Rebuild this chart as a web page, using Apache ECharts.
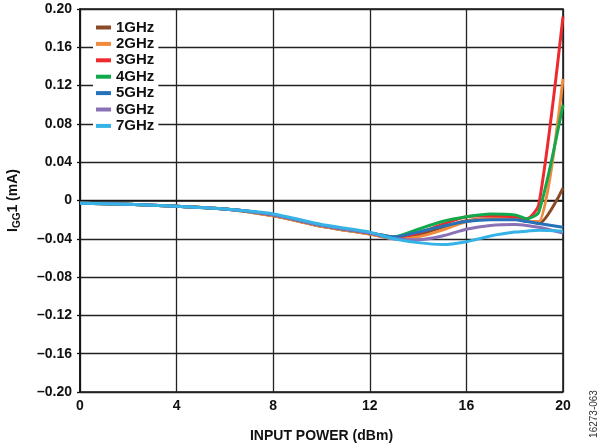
<!DOCTYPE html>
<html>
<head>
<meta charset="utf-8">
<script src="https://cdn.jsdelivr.net/npm/echarts@6/dist/echarts.min.js"></script>
<style>
  html, body { margin: 0; padding: 0; background: #fff; }
  #chart { width: 600px; height: 446px; }
</style>
</head>
<body>
<div id="chart"></div>
<script>
// input power points (dBm)
const powerDbm = [0, 2, 4, 6, 8, 10, 11, 12, 13, 14, 15, 16, 17, 18, 18.5, 19, 20]

// IGG1 (mA) per frequency
const igg1GHz = [-0.003, -0.004, -0.006, -0.009, -0.016, -0.027, -0.031, -0.035, -0.039, -0.036, -0.028, -0.021, -0.019, -0.019, -0.021, -0.024, 0.013]
const igg2GHz = [-0.003, -0.004, -0.006, -0.009, -0.016, -0.027, -0.031, -0.035, -0.040, -0.038, -0.031, -0.022, -0.019, -0.019, -0.022, -0.022, 0.127]
const igg3GHz = [-0.003, -0.004, -0.006, -0.009, -0.015, -0.026, -0.030, -0.034, -0.038, -0.034, -0.025, -0.017, -0.016, -0.017, -0.019, -0.004, 0.192]
const igg4GHz = [-0.003, -0.004, -0.006, -0.009, -0.015, -0.026, -0.030, -0.034, -0.038, -0.030, -0.022, -0.017, -0.014, -0.015, -0.019, -0.012, 0.100]
const igg5GHz = [-0.003, -0.004, -0.006, -0.009, -0.015, -0.026, -0.030, -0.034, -0.038, -0.033, -0.027, -0.022, -0.020, -0.020, -0.022, -0.024, -0.028]
const igg6GHz = [-0.003, -0.004, -0.006, -0.009, -0.015, -0.026, -0.030, -0.034, -0.040, -0.041, -0.037, -0.030, -0.026, -0.025, -0.026, -0.028, -0.034]
const igg7GHz = [-0.003, -0.004, -0.006, -0.009, -0.014, -0.025, -0.029, -0.033, -0.040, -0.044, -0.046, -0.043, -0.037, -0.033, -0.032, -0.031, -0.032]

const seriesNames = ['1GHz', '2GHz', '3GHz', '4GHz', '5GHz', '6GHz', '7GHz']
const seriesValues = [igg1GHz, igg2GHz, igg3GHz, igg4GHz, igg5GHz, igg6GHz, igg7GHz]
const seriesColors = ['#8b4a26', '#f08a3c', '#ee2a2e', '#12a84c', '#2572b8', '#8a70b4', '#35b2e6']

const xTicks = [0, 4, 8, 12, 16, 20]

const font = 'Liberation Sans, Arial, sans-serif'

const chart = echarts.init(document.getElementById('chart'))

// y 轴标签: 负号用 en dash
const fmtY = (v) => {
  if (Math.abs(v) < 1e-9) return '0'
  const s = Math.abs(v).toFixed(2)
  return v < 0 ? '\u2013' + s : s
}

const option = {
  animation: false,
  grid: {
    left: 80,
    right: 37,
    top: 9,
    bottom: 54,
    outerBoundsMode: 'none',
    show: true,
    borderColor: '#111',
    borderWidth: 1.5,
  },
  legend: {
    orient: 'vertical',
    left: 93,
    top: 18,
    padding: [2, 4, 3, 3],
    backgroundColor: '#fff',
    itemWidth: 15,
    itemHeight: 4,
    itemGap: 1.4,
    icon: 'rect',
    data: seriesNames,
    textStyle: {
      fontFamily: font,
      fontSize: 15,
      fontWeight: 'bold',
      color: '#111',
      lineHeight: 14,
    },
  },
  xAxis: {
    type: 'value',
    min: 0,
    max: 20,
    interval: 4,
    name: 'INPUT POWER (dBm)',
    nameLocation: 'middle',
    nameGap: 37,
    nameTextStyle: { fontFamily: font, fontSize: 14, fontWeight: 'bold', color: '#111' },
    axisLine: { show: true, lineStyle: { color: '#111', width: 1.5 } },
    axisTick: { show: false },
    axisLabel: {
      fontFamily: font,
      fontSize: 14,
      fontWeight: 'bold',
      color: '#111',
      margin: 7,
      customValues: xTicks,
    },
    splitLine: { show: true, lineStyle: { color: '#222', width: 1.3 } },
  },
  yAxis: {
    type: 'value',
    min: -0.2,
    max: 0.2,
    interval: 0.04,
    name: '{i|I}{s|GG}{i|1 (mA)}',
    nameLocation: 'middle',
    nameGap: 58,
    nameRotate: 90,
    nameTextStyle: {
      rich: {
        i: { fontFamily: font, fontSize: 14, fontWeight: 'bold', color: '#111', lineHeight: 18 },
        s: { fontFamily: font, fontSize: 10, fontWeight: 'bold', color: '#111', lineHeight: 18, verticalAlign: 'bottom', padding: [5, 0, 0, 0] },
      },
    },
    axisLine: { show: true, lineStyle: { color: '#111', width: 1.5 } },
    axisTick: { show: true, length: 3, lineStyle: { color: '#111', width: 1.3 } },
    axisLabel: {
      fontFamily: font,
      fontSize: 14,
      fontWeight: 'bold',
      color: '#111',
      margin: 8,
      formatter: fmtY,
    },
    splitLine: { show: true, lineStyle: { color: '#222', width: 1.3 } },
  },
  graphic: [
    {
      type: 'text',
      x: 599,
      y: 414,
      rotation: Math.PI / 2,
      style: {
        text: '16273-063',
        fontFamily: font,
        fontSize: 10,
        fill: '#333',
        align: 'center',
        verticalAlign: 'bottom',
      },
    },
  ],
  series: seriesNames.map((name, i) => ({
    name,
    type: 'line',
    smooth: 0.25,
    showSymbol: false,
    color: seriesColors[i],
    lineStyle: { width: 3, color: seriesColors[i] },
    data: powerDbm.map((x, j) => [x, seriesValues[i][j]]),
  })),
}

chart.setOption(option)
</script>
</body>
</html>
